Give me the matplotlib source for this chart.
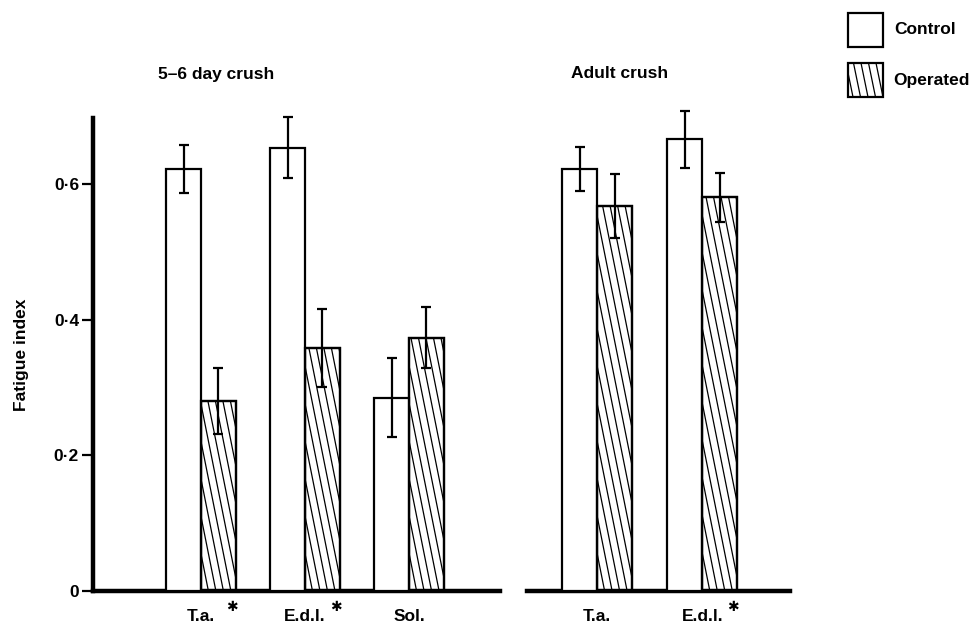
import numpy as np
import matplotlib.pyplot as plt
from matplotlib.patches import Rectangle
from matplotlib.transforms import blended_transform_factory

plt.rcParams["font.family"] = ["Liberation Sans", "DejaVu Sans"]
plt.rcParams["font.weight"] = "bold"

# fatigue index, mean and error, per muscle
young_muscles = ["T.a.", "E.d.l.", "Sol."]
young_control = [0.622, 0.653, 0.285]
young_control_err = [0.035, 0.045, 0.058]
young_operated = [0.280, 0.358, 0.373]
young_operated_err = [0.049, 0.058, 0.045]
young_signif = [True, True, False]

adult_muscles = ["T.a.", "E.d.l."]
adult_control = [0.622, 0.666]
adult_control_err = [0.032, 0.042]
adult_operated = [0.567, 0.580]
adult_operated_err = [0.047, 0.036]
adult_signif = [False, True]

yticks = [0, 0.2, 0.4, 0.6]
ytick_labels = ["0", "0\u00b72", "0\u00b74", "0\u00b76"]

FS = 12.5
W, H = 972, 627
fig = plt.figure(figsize=(W / 100, H / 100), dpi=100)


def px_axes(x0, x1, y0, y1):
    return fig.add_axes([x0 / W, (H - y1) / H, (x1 - x0) / W, (y1 - y0) / H])


ax1 = px_axes(93, 500, 118, 591)
ax2 = px_axes(527, 790, 118, 591)
ax1.set_xlim(-0.11, 11.62)
ax2.set_xlim(1.0, 8.5)
for ax in (ax1, ax2):
    ax.set_ylim(0, 0.697)
    ax.patch.set_visible(False)


def hatch_bar(ax, bar, spacing_px=7.5, slope=0.2):
    # steep "\" hatching, drawn as clipped lines
    bb = ax.get_window_extent()
    x0, x1 = ax.get_xlim()
    y0, y1 = ax.get_ylim()
    xpx = bb.width / (x1 - x0)
    ypx = bb.height / (y1 - y0)
    bx, bw, bh = bar.get_x(), bar.get_width(), bar.get_height()
    shift = slope * bh * ypx / xpx
    step = spacing_px / xpx
    for xs in np.arange(bx - shift, bx + bw + step, step):
        ln, = ax.plot([xs, xs + shift], [bh, 0], color="black", lw=0.9,
                      solid_capstyle="butt", zorder=2)
        ln.set_clip_path(bar)


def draw_panel(ax, names, ctrl, ctrl_err, oper, oper_err, signif):
    centers = 3 + 3 * np.arange(len(names))
    w = 1.0
    err_kw = dict(fmt="none", ecolor="black", elinewidth=1.6, capsize=3.6,
                  capthick=1.6, zorder=4)
    ax.bar(centers - w / 2, ctrl, w, color="white", edgecolor="black",
           linewidth=1.6, zorder=3)
    bars_o = ax.bar(centers + w / 2, oper, w, color="white", edgecolor="black",
                    linewidth=1.6, zorder=1)
    for b in bars_o:
        hatch_bar(ax, b)
    # outlines of operated bars over the hatching
    ax.bar(centers + w / 2, oper, w, fill=False, edgecolor="black",
           linewidth=1.6, zorder=3)
    for xs, ys, es in [(centers - w / 2, ctrl, ctrl_err),
                       (centers + w / 2, oper, oper_err)]:
        eb = ax.errorbar(xs, ys, yerr=es, **err_kw)
        for part in eb.lines[1] + eb.lines[2]:
            part.set_clip_on(False)
    for sp in ax.spines.values():
        sp.set_visible(False)
    ax.spines["bottom"].set_visible(True)
    ax.spines["bottom"].set_linewidth(3.2)
    ax.set_xticks(centers)
    ax.set_xticklabels(names, fontsize=FS, fontweight="bold")
    ax.tick_params(axis="x", length=0, pad=13)
    trans = blended_transform_factory(ax.transData, ax.transAxes)
    for c, s in zip(centers, signif):
        if s:
            ax.text(c + 0.88, -0.033, "\u2731", transform=trans,
                    ha="center", va="center", fontsize=10,
                    family="DejaVu Sans", clip_on=False)


draw_panel(ax1, young_muscles, young_control, young_control_err,
           young_operated, young_operated_err, young_signif)
draw_panel(ax2, adult_muscles, adult_control, adult_control_err,
           adult_operated, adult_operated_err, adult_signif)

ax1.spines["left"].set_visible(True)
ax1.spines["left"].set_linewidth(3.2)
ax1.set_yticks(yticks)
ax1.set_yticklabels(ytick_labels, fontsize=FS, fontweight="bold")
ax1.tick_params(axis="y", length=8, width=1.6, pad=2)
ax1.set_ylabel("Fatigue index", fontsize=FS, fontweight="bold", labelpad=18)
ax2.set_yticks([])

fig.text(216 / W, 1 - 75 / H, "5\u20136 day crush", ha="center", va="center",
         fontsize=FS, fontweight="bold")
fig.text(620 / W, 1 - 74 / H, "Adult crush", ha="center", va="center",
         fontsize=FS, fontweight="bold")

# legend boxes
leg = fig.add_axes([0, 0, 1, 1])
leg.set_xlim(0, W)
leg.set_ylim(H, 0)
leg.axis("off")
leg.add_patch(Rectangle((848, 13), 35, 34, facecolor="white",
                        edgecolor="black", lw=1.6))
op_bg = Rectangle((848, 63), 35, 34, facecolor="white", edgecolor="none")
leg.add_patch(op_bg)
for xs in np.arange(846, 890, 7.5):
    ln, = leg.plot([xs, xs + 7], [63, 97], color="black", lw=0.9)
    ln.set_clip_path(op_bg)
leg.add_patch(Rectangle((848, 63), 35, 34, fill=False, edgecolor="black",
                        lw=1.6, zorder=3))
leg.text(894, 30, "Control", ha="left", va="center", fontsize=FS,
         fontweight="bold")
leg.text(893, 80, "Operated", ha="left", va="center", fontsize=FS,
         fontweight="bold")

fig.savefig("out.png", dpi=100)
